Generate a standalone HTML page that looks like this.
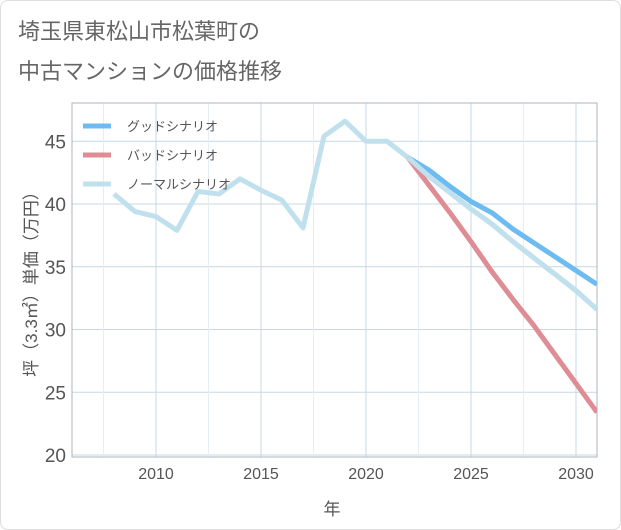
<!DOCTYPE html>
<html><head><meta charset="utf-8"><style>
body{margin:0;background:#fff;font-family:"Liberation Sans","Noto Sans CJK JP",sans-serif;}
#card{position:absolute;left:0;top:0;width:619px;height:528px;border:1px solid #ddd;border-radius:8px;}
.t{position:absolute;left:18px;font-size:22px;color:#666;}
</style></head><body>
<div id="card"></div>
<div class="t" style="top:14px">埼玉県東松山市松葉町の</div>
<div class="t" style="top:54px">中古マンションの価格推移</div>
<svg id="c" width="621" height="530" style="position:absolute;left:0;top:0"></svg>
<script>
const years=[2008,2009,2010,2011,2012,2013,2014,2015,2016,2017,2018,2019,2020,2021,2022,2023,2024,2025,2026,2027,2028,2029,2030,2031];
const normal=[40.8,39.4,39.0,37.9,41.0,40.8,42.0,41.1,40.3,38.1,45.4,46.6,45.0,45.0,43.7,42.2,40.9,39.6,38.4,37.0,35.7,34.4,33.1,31.6];
const goodYears=[2022,2023,2024,2025,2026,2027,2028,2029,2030,2031];
const good=[43.7,42.7,41.4,40.2,39.3,38.0,36.9,35.8,34.7,33.6];
const bad=[43.7,41.5,39.3,37.0,34.6,32.4,30.3,28.0,25.7,23.4];
const yTicks=[20,25,30,35,40,45];
const xTicks=[2010,2015,2020,2025,2030];
const L=72,R=597,T=103,B=457;
const x=v=>156+(v-2010)*21;
const y=v=>455-(v-20)*12.55;
const svg=document.getElementById('c');const NS='http://www.w3.org/2000/svg';
function mk(t,a,p){const e=document.createElementNS(NS,t);for(const k in a)e.setAttribute(k,a[k]);(p||svg).appendChild(e);return e;}
const defs=mk('defs',{});const cp=mk('clipPath',{id:'cp'},defs);mk('rect',{x:L,y:T,width:R-L,height:B-T},cp);
yTicks.forEach(v=>{const g=mk('line',{x1:L,x2:R,y1:y(v),y2:y(v),stroke:'#c9d8e4','stroke-width':1});

});
for(let v=2007.5;v<=2031;v+=2.5){const g=mk('line',{x1:x(v),x2:x(v),y1:T,y2:B,stroke:v%5?'#e6eef4':'#c9d8e4','stroke-width':1});

}
yTicks.forEach(v=>{const t=mk('text',{x:66,y:y(v)+7,'text-anchor':'end','font-size':19,fill:'#555'});t.textContent=v;

});
xTicks.forEach(v=>{const t=mk('text',{x:x(v),y:479,'text-anchor':'middle','font-size':16,fill:'#555'});t.textContent=v;

});
const frame=mk('rect',{x:L,y:T,width:R-L,height:B-T,fill:'none',stroke:'#a8b4bc','stroke-width':1});


function line(xs,vs,col,name){const p=mk('polyline',{points:xs.map((xx,i)=>x(xx)+','+y(vs[i])).join(' '),fill:'none',stroke:col,'stroke-width':5,'stroke-linejoin':'round','clip-path':'url(#cp)'});

}
line(years,normal,'#bfe0ec','normal-scenario-line');
line(goodYears,bad,'#df8d95','bad-scenario-line');
line(goodYears,good,'#6cbcf2','good-scenario-line');
line(years.slice(14),normal.slice(14),'#bfe0ec','normal-scenario-forecast');
const leg=[['グッドシナリオ','#6cbcf2'],['バッドシナリオ','#df8d95'],['ノーマルシナリオ','#bfe0ec']];
leg.forEach((l,i)=>{const yy=126+i*29;const s=mk('line',{x1:83,x2:111,y1:yy,y2:yy,stroke:l[1],'stroke-width':5});


const t=mk('text',{x:127,y:yy+5,'font-size':13,fill:'#555'});t.textContent=l[0];

});
const yt=mk('text',{x:0,y:0,transform:'translate(37,280) rotate(-90)','text-anchor':'middle','font-size':17,fill:'#555'});yt.textContent='坪（3.3㎡）単価（万円）';


const xt=mk('text',{x:332,y:515,'text-anchor':'middle','font-size':17,fill:'#555'});xt.textContent='年';


</script>
</body></html>
